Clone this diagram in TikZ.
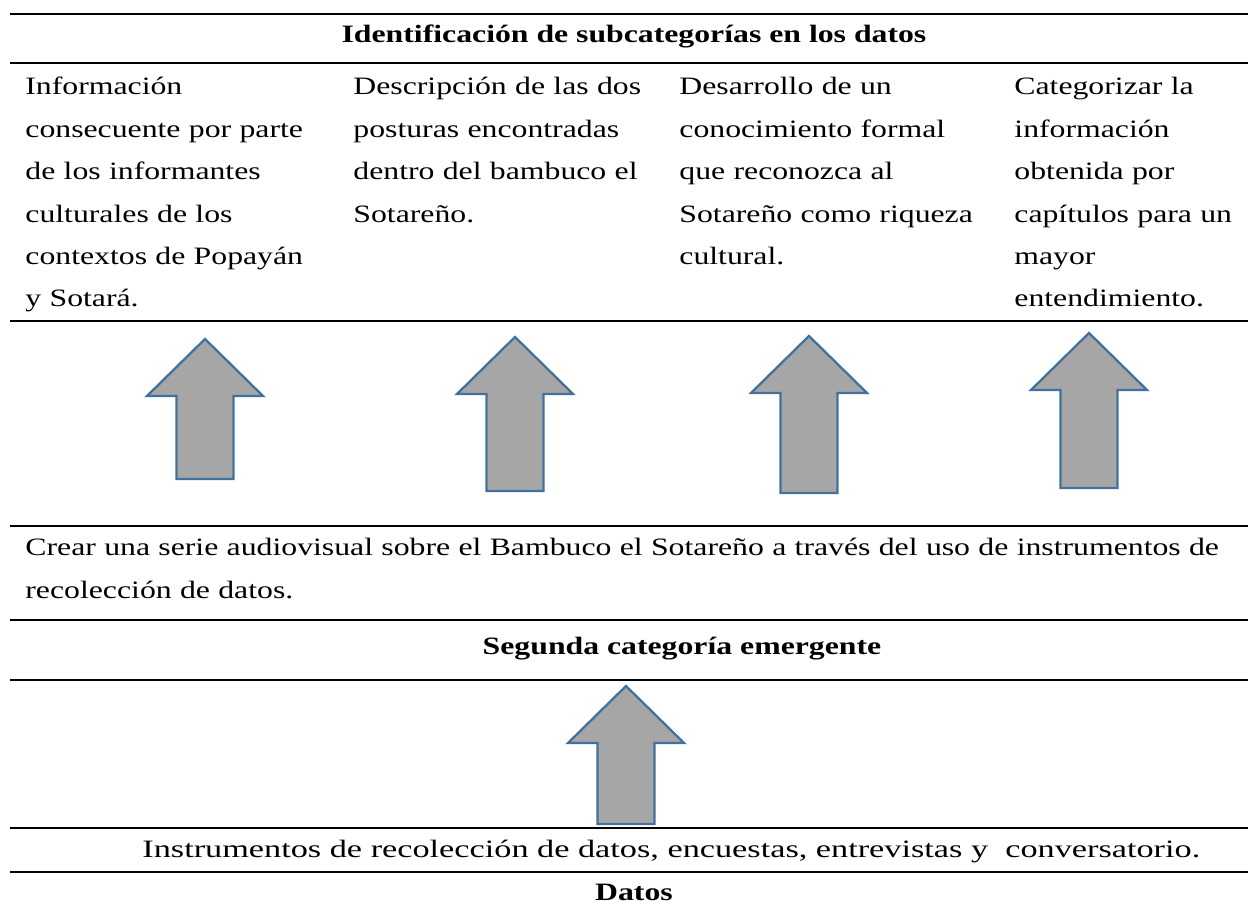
\documentclass[tikz,border=0pt]{standalone}
\usepackage{fontspec}
\setmainfont{Liberation Serif}[FakeStretch=1.27]
\usepackage{tikz}
\usetikzlibrary{positioning}
\definecolor{arrowblue}{HTML}{41719C}
\definecolor{arrowgray}{HTML}{A6A6A6}
\tikzstyle{hrule} = [draw, line width=1.2pt]
\tikzstyle{cell} = [anchor=base west, inner sep=0pt, text width=170pt,
    align=left, font=\fontsize{12}{20.35}\selectfont]
\tikzstyle{wide} = [cell, text width=600pt]
\tikzstyle{headtext} = [anchor=base, inner sep=0pt,
    font=\fontsize{12}{20.35}\selectfont\bfseries]
\tikzstyle{bodytext} = [anchor=base west, inner sep=0pt,
    font=\fontsize{12}{20.35}\selectfont]
\tikzstyle{blockarrow} = [draw=arrowblue, fill=arrowgray, line width=1.1pt]
\newcommand{\blockup}[3]{%
  \draw[blockarrow] (#1,#2) -- (#1+58,#2+57) -- (#1+28.5,#2+57)
    -- (#1+28.5,#3) -- (#1-28.5,#3) -- (#1-28.5,#2+57)
    -- (#1-58,#2+57) -- cycle;}

\begin{document}
\begin{tikzpicture}[x=0.48pt, y=-0.48pt]
  \useasboundingbox (0,0) rectangle (1248,910);
  \foreach \ypos in {14,63,321,526,620,680,828,872}
    \draw[hrule] (10,\ypos) -- (1248,\ypos);

  \node[headtext] (ident) at (634,43) {Identificación de subcategorías en los datos};
  \node[cell] (info) at (25,95) {Información\\consecuente por parte\\de los informantes\\culturales de los\\contextos de Popayán\\y Sotará.};
  \node[cell] (desc) at (353,95) {Descripción de las dos\\posturas encontradas\\dentro del bambuco el\\Sotareño.};
  \node[cell] (desa) at (679,95) {Desarrollo de un\\conocimiento formal\\que reconozca al\\Sotareño como riqueza\\cultural.};
  \node[cell] (cate) at (1014,95) {Categorizar la\\información\\obtenida por\\capítulos para un\\mayor\\entendimiento.};

  \blockup{205}{339}{479}
  \blockup{515}{337}{491}
  \blockup{809}{336}{493}
  \blockup{1089}{333}{488}

  \node[wide] (crear) at (25,556) {Crear una serie audiovisual sobre el Bambuco el Sotareño a través del uso de instrumentos de\\recolección de datos.};
  \node[headtext] (segunda) at (682,655) {Segunda categoría emergente};

  \blockup{626}{686}{824}

  \node[bodytext] (instr) at (142,858) {\scalebox{1.079}[1]{Instrumentos de recolección de datos, encuestas, entrevistas y \ conversatorio.}};
  \node[headtext] (datos) at (634,901) {Datos};
\end{tikzpicture}
\end{document}
